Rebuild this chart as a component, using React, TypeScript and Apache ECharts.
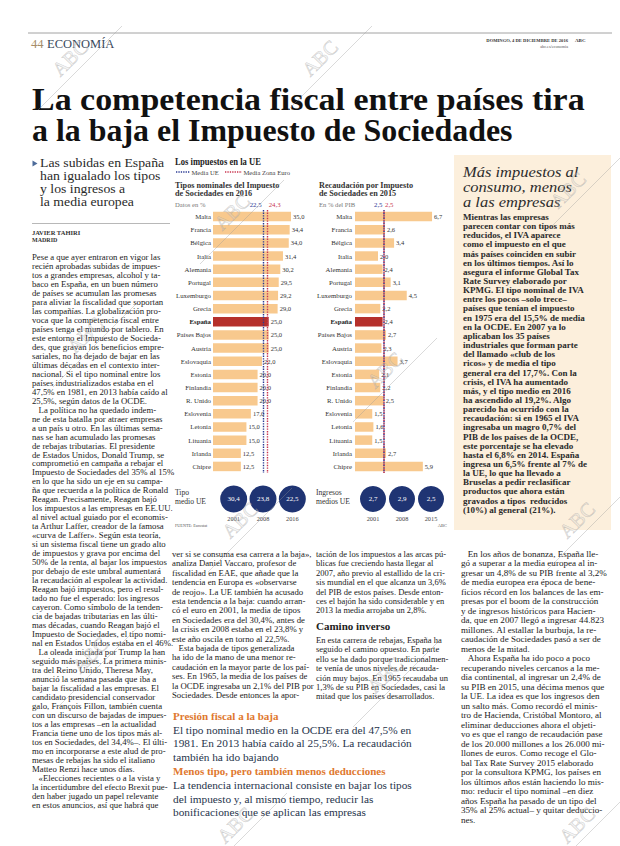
import React, { useEffect, useRef } from 'react';
import * as echarts from 'echarts';

// ---------- DATA ----------
const countries = ['Malta', 'Francia', 'Bélgica', 'Italia', 'Alemania', 'Portugal', 'Luxemburgo', 'Grecia', 'España', 'Países Bajos', 'Austria', 'Eslovaquia', 'Estonia', 'Finlandia', 'R. Unido', 'Eslovenia', 'Letonia', 'Lituania', 'Irlanda', 'Chipre'];
const tiposNominales2016 = [35.0, 34.4, 34.0, 31.4, 30.2, 29.5, 29.2, 29.0, 25.0, 25.0, 25.0, 22.0, 20.0, 20.0, 20.0, 17.0, 15.0, 15.0, 12.5, 12.5];
const recaudacion2015 = [6.7, 2.6, 3.4, 2.0, 2.4, 3.1, 4.5, 2.2, 2.4, 2.7, 2.3, 3.7, 2.1, 2.2, 2.5, 1.5, 1.6, 1.5, 2.7, 5.9];
const mediaUETipos = 22.5;
const mediaZonaEuroTipos = 24.3;
const mediaUERecaudacion = 2.5;
const mediaZonaEuroRecaudacion = 2.5;
const tipoMedioYears = ['2001', '2008', '2016'];
const tipoMedioUE = [30.4, 23.8, 22.5];
const ingresosYears = ['2001', '2008', '2015'];
const ingresosMediosUE = [2.7, 2.9, 2.5];
const highlight = 'España';

// ---------- TEXTS ----------
const NB = '\u00A0\u00A0\u00A0';
const title = ['La competencia fiscal entre países tira', 'a la baja el Impuesto de Sociedades'];
const deck = ['Las subidas en España', 'han igualado los tipos', 'y los ingresos a', 'la media europea'];
const col1 = [
  'Pese a que ayer entraron en vigor las', 'recién aprobadas subidas de impues-', 'tos a grandes empresas, alcohol y ta-', 'baco en España, en un buen número',
  'de países se acumulan las promesas', 'para aliviar la fiscalidad que soportan', 'las compañías. La globalización pro-', 'voca que la competencia fiscal entre',
  'países tenga el mundo por tablero. En', 'este entorno el Impuesto de Socieda-', 'des, que gravan los beneficios empre-', 'sariales, no ha dejado de bajar en las',
  'últimas décadas en el contexto inter-', 'nacional. Si el tipo nominal entre los', 'países industrializados estaba en el', '47,5% en 1981, en 2013 había caído al',
  '25,5%, según datos de la OCDE.', NB + 'La política no ha quedado indem-', 'ne de esta batalla por atraer empresas', 'a un país u otro. En las últimas sema-',
  'nas se han acumulado las promesas', 'de rebajas tributarias. El presidente', 'de Estados Unidos, Donald Trump, se', 'comprometió en campaña a rebajar el',
  'Impuesto de Sociedades del 35% al 15%', 'en lo que ha sido un eje en su campa-', 'ña que recuerda a la política de Ronald', 'Reagan. Precisamente, Reagan bajó',
  'los impuestos a las empresas en EE.UU.', 'al nivel actual guiado por el economis-', 'ta Arthur Laffer, creador de la famosa', '«curva de Laffer». Según esta teoría,',
  'si un sistema fiscal tiene un grado alto', 'de impuestos y grava por encima del', '50% de la renta, al bajar los impuestos', 'por debajo de este umbral aumentará',
  'la recaudación al espolear la actividad.', 'Reagan bajó impuestos, pero el resul-', 'tado no fue el esperado: los ingresos', 'cayeron. Como símbolo de la tenden-',
  'cia de bajadas tributarias en las últi-', 'mas décadas, cuando Reagan bajó el', 'Impuesto de Sociedades, el tipo nomi-', 'nal en Estados Unidos estaba en el 46%.',
  NB + 'La oleada iniciada por Trump la han', 'seguido más países. La primera minis-', 'tra del Reino Unido, Theresa May,', 'anunció la semana pasada que iba a',
  'bajar la fiscalidad a las empresas. El', 'candidato presidencial conservador', 'galo, François Fillon, también cuenta', 'con un discurso de bajadas de impues-',
  'tos a las empresas –en la actualidad', 'Francia tiene uno de los tipos más al-', 'tos en Sociedades, del 34,4%–. El últi-', 'mo en incorporarse a este alud de pro-',
  'mesas de rebajas ha sido el italiano', 'Matteo Renzi hace unos días.', NB + '«Elecciones recientes o a la vista y', 'la incertidumbre del efecto Brexit pue-',
  'den haber jugado un papel relevante', 'en estos anuncios, así que habrá que',
];
const col2 = [
  'ver si se consuma esa carrera a la baja»,', 'analiza Daniel Vaccaro, profesor de', 'fiscalidad en EAE, que añade que la', 'tendencia en Europa es «observarse',
  'de reojo». La UE también ha acusado', 'esta tendencia a la baja: cuando arran-', 'có el euro en 2001, la media de tipos', 'en Sociedades era del 30,4%, antes de',
  'la crisis en 2008 estaba en el 23,8% y', 'este año oscila en torno al 22,5%.', NB + 'Esta bajada de tipos generalizada', 'ha ido de la mano de una menor re-',
  'caudación en la mayor parte de los paí-', 'ses. En 1965, la media de los países de', 'la OCDE ingresaba un 2,1% del PIB por', 'Sociedades. Desde entonces la apor-',
];
const col3a = [
  'tación de los impuestos a las arcas pú-', 'blicas fue creciendo hasta llegar al', '2007, año previo al estallido de la cri-', 'sis mundial en el que alcanza un 3,6%',
  'del PIB de estos países. Desde enton-', 'ces el bajón ha sido considerable y en', '2013 la media arrojaba un 2,8%.',
];
const col3b = [
  'En esta carrera de rebajas, España ha', 'seguido el camino opuesto. En parte', 'ello se ha dado porque tradicionalmen-', 'te venía de unos niveles de recauda-',
  'ción muy bajos. En 1965 recaudaba un', '1,3% de su PIB en Sociedades, casi la', 'mitad que los países desarrollados.',
];
const col4 = [
  NB + 'En los años de bonanza, España lle-', 'gó a superar a la media europea al in-', 'gresar un 4,8% de su PIB frente al 3,2%', 'de media europea era época de bene-',
  'ficios récord en los balances de las em-', 'presas por el boom de la construcción', 'y de ingresos históricos para Hacien-', 'da, que en 2007 llegó a ingresar 44.823',
  'millones. Al estallar la burbuja, la re-', 'caudación de Sociedades pasó a ser de', 'menos de la mitad.', NB + 'Ahora España ha ido poco a poco',
  'recuperando niveles cercanos a la me-', 'dia continental, al ingresar un 2,4% de', 'su PIB en 2015, una décima menos que', 'la UE. La idea es que los ingresos den',
  'un salto más. Como recordó el minis-', 'tro de Hacienda, Cristóbal Montoro, al', 'eliminar deducciones ahora el objeti-', 'vo es que el rango de recaudación pase',
  'de los 20.000 millones a los 26.000 mi-', 'llones de euros. Como recoge el Glo-', 'bal Tax Rate Survey 2015 elaborado', 'por la consultora KPMG, los países en',
  'los últimos años están haciendo lo mis-', 'mo: reducir el tipo nominal –en diez', 'años España ha pasado de un tipo del', '35% al 25% actual– y quitar deduccio-', 'nes.',
];
const sideTitle = ['Más impuestos al', 'consumo, menos', 'a las empresas'];
const sideBody = [
  'Mientras las empresas', 'parecen contar con tipos más', 'reducidos, el IVA aparece', 'como el impuesto en el que', 'más países coinciden en subir',
  'en los últimos tiempos. Así lo', 'asegura el informe Global Tax', 'Rate Survey elaborado por', 'KPMG. El tipo nominal de IVA', 'entre los pocos –solo trece–',
  'países que tenían el impuesto', 'en 1975 era del 15,5% de media', 'en la OCDE. En 2007 ya lo', 'aplicaban los 35 países', 'industriales que forman parte',
  'del llamado «club de los', 'ricos» y de media el tipo', 'general era del 17,7%. Con la', 'crisis, el IVA ha aumentado', 'más, y el tipo medio en 2016',
  'ha ascendido al 19,2%. Algo', 'parecido ha ocurrido con la', 'recaudación: si en 1965 el IVA', 'ingresaba un magro 0,7% del', 'PIB de los países de la OCDE,',
  'este porcentaje se ha elevado', 'hasta el 6,8% en 2014. España', 'ingresa un 6,5% frente al 7% de', 'la UE, lo que ha llevado a', 'Bruselas a pedir reclasificar',
  'productos que ahora están', 'gravados a tipos  reducidos', '(10%) al general (21%).',
];

// ---------- STYLE ----------
const SERIF = '"Liberation Serif", "DejaVu Serif", serif';
const PEACH = '#f8c98e';
const RED_BAR = '#b5302c';
const NAVY = '#1f3473';
const BLUE_LINE = '#2a3a94';
const RED_LINE = '#c9354f';
const ORANGE = '#e0782e';
const INK = '#222';

const fmt = (v: number) => v.toFixed(1).replace('.', ',');

function txt(x: number, yc: number, lines: string[] | string, o: any = {}) {
  const lh = o.lh ?? 9.4;
  const text = Array.isArray(lines) ? lines.join('\n') : lines;
  return {
    type: 'text', x, y: yc - lh / 2, scaleX: o.sx ?? 1, silent: true, z: o.z ?? 10,
    style: {
      text, fill: o.color ?? INK, fontSize: o.size ?? 8.5, fontFamily: o.family ?? SERIF,
      fontWeight: o.weight ?? 'normal', fontStyle: o.fstyle ?? 'normal', lineHeight: lh,
      textAlign: o.align ?? 'left', textVerticalAlign: 'top',
    },
  };
}

function watermark(cx: number, cy: number) {
  return [
    { type: 'line', silent: true, z: 50, shape: { x1: cx - 42, y1: cy + 42, x2: cx + 42, y2: cy - 42 }, style: { stroke: 'rgba(150,150,150,0.45)', lineWidth: 0.8 } },
    { type: 'text', silent: true, z: 50, x: cx - 3, y: cy - 3, rotation: Math.PI / 4, style: { text: 'ABC', fontSize: 20, fontFamily: SERIF, fill: 'rgba(215,215,215,0.25)', stroke: 'rgba(150,150,150,0.45)', lineWidth: 0.6, textAlign: 'center', textVerticalAlign: 'bottom' } },
  ];
}

const wmPositions = [[80, 68], [330, 68], [242, 222], [578, 200], [95, 345], [395, 380], [250, 530], [587, 530], [100, 665], [395, 685], [587, 835], [245, 835]];

function buildOption() {
  const graphic: any[] = [
    // sidebar background
    { type: 'rect', silent: true, z: 0, shape: { x: 454, y: 155, width: 157, height: 375 }, style: { fill: '#fcefdc' } },
    // header
    { type: 'line', silent: true, shape: { x1: 28, y1: 33, x2: 612, y2: 33 }, style: { stroke: '#8a8a8a', lineWidth: 0.8 } },
    txt(31, 44, '44', { size: 12.5, color: '#a58c68', lh: 14 }),
    txt(47, 44, 'ECONOMÍA', { size: 12.5, color: '#394a5c', lh: 14 }),
    txt(568, 40, 'DOMINGO, 4 DE DICIEMBRE DE 2016', { size: 4.6, weight: 'bold', color: '#333', align: 'right', lh: 6 }),
    txt(575, 40, 'ABC', { size: 5, weight: 'bold', color: '#333', lh: 6 }),
    txt(568, 46.5, 'abc.es/economia', { size: 4.2, color: '#555', align: 'right', lh: 5 }),
    // title
    txt(32, 99.5, title[0], { size: 31, weight: 'bold', color: '#111', lh: 31, sx: 1.095 }),
    txt(32, 130.5, title[1], { size: 31, weight: 'bold', color: '#111', lh: 31, sx: 1.03 }),
    // deck
    { type: 'polygon', silent: true, shape: { points: [[32.5, 160.5], [37.5, 163.5], [32.5, 166.5]] }, style: { fill: '#4d6b9a' } },
    txt(40, 163, deck, { size: 13, color: '#2a2a2a', lh: 13, sx: 1.06 }),
    { type: 'line', silent: true, shape: { x1: 32, y1: 223.5, x2: 170, y2: 223.5 }, style: { stroke: '#888', lineWidth: 0.6 } },
    txt(32, 232, 'JAVIER TAHIRI', { size: 6.5, weight: 'bold', color: '#333', lh: 8 }),
    txt(32, 240, 'MADRID', { size: 6, weight: 'bold', color: '#333', lh: 8 }),
    // body columns
    txt(32, 257, col1, { size: 8.5, lh: 8.98, sx: 1.03 }),
    txt(172, 554, col2, { size: 8.5, lh: 9.4, sx: 1.03 }),
    txt(316, 554, col3a, { size: 8.5, lh: 9.4, sx: 1.0 }),
    txt(316, 626, 'Camino inverso', { size: 11, weight: 'bold', color: '#222', lh: 12 }),
    txt(316, 640, col3b, { size: 8.5, lh: 9.4, sx: 1.0 }),
    txt(461, 554, col4, { size: 8.5, lh: 9.5, sx: 1.07 }),
    // highlights
    txt(173, 716, 'Presión fiscal a la baja', { size: 11, weight: 'bold', color: ORANGE, lh: 13 }),
    txt(173, 730, ['El tipo nominal medio en la OCDE era del 47,5% en', '1981. En 2013 había caído al 25,5%. La recaudación', 'también ha ido bajando'], { size: 11.3, color: '#26334b', lh: 13.4 }),
    txt(173, 771, 'Menos tipo, pero también menos deducciones', { size: 11, weight: 'bold', color: ORANGE, lh: 13 }),
    txt(173, 785.5, ['La tendencia internacional consiste en bajar los tipos', 'del impuesto y, al mismo tiempo, reducir las', 'bonificaciones que se aplican las empresas'], { size: 11.3, color: '#26334b', lh: 13.4 }),
    // sidebar
    txt(463, 172, sideTitle, { size: 15, fstyle: 'italic', color: '#2c2c2c', lh: 15, sx: 1.1 }),
    txt(463, 217, sideBody, { size: 9, weight: 'bold', color: '#2a2a2a', lh: 9.15, sx: 1.0 }),
    // chart headings
    txt(175, 162, 'Los impuestos en la UE', { size: 10, weight: 'bold', color: '#222', lh: 11, sx: 0.86 }),
    { type: 'line', silent: true, shape: { x1: 176, y1: 172, x2: 190, y2: 172 }, style: { stroke: BLUE_LINE, lineWidth: 1.3, lineDash: [1.3, 1.1] } },
    txt(191.5, 172, 'Media UE', { size: 6.6, color: '#444', lh: 8 }),
    { type: 'line', silent: true, shape: { x1: 225, y1: 172, x2: 242, y2: 172 }, style: { stroke: RED_LINE, lineWidth: 1.3, lineDash: [1.3, 1.1] } },
    txt(243.5, 172, 'Media Zona Euro', { size: 6.6, color: '#444', lh: 8 }),
    txt(175, 185, ['Tipos nominales del Impuesto', 'de Sociedades en 2016'], { size: 8.2, weight: 'bold', color: '#333', lh: 8.5 }),
    txt(175, 204.5, 'Datos en %', { size: 6.6, color: '#777', lh: 8 }),
    txt(319, 185, ['Recaudación por Impuesto', 'de Sociedades en 2015'], { size: 8.2, weight: 'bold', color: '#333', lh: 8.5 }),
    txt(319, 204.5, 'En % del PIB', { size: 6.6, color: '#777', lh: 8 }),
    txt(175, 492, ['Tipo', 'medio UE'], { size: 7.6, color: '#333', lh: 9.5 }),
    txt(316, 492, ['Ingresos', 'medios UE'], { size: 7.6, color: '#333', lh: 9.5 }),
    txt(175, 525, 'FUENTE: Eurostat', { size: 4.2, color: '#555', lh: 5 }),
    txt(447, 525, 'ABC', { size: 4.5, color: '#555', lh: 5, align: 'right' }),
  ];
  wmPositions.forEach(([x, y]) => graphic.push(...watermark(x, y)));

  const catAxisLabel = {
    fontSize: 6.8, color: '#333', fontFamily: SERIF,
    formatter: (v: string) => (v === highlight ? `{b|${v}}` : v),
    rich: { b: { fontSize: 6.8, fontWeight: 'bold', color: '#222', fontFamily: SERIF } },
  };
  const barLabel = { show: true, position: 'right', distance: 2, fontSize: 6.5, color: '#333', fontFamily: SERIF, formatter: (p: any) => fmt(p.value) };
  const mlLabel = (v: number, color: string, side: 'l' | 'r', pad: number) => ({
    show: true, position: 'start', distance: 2, formatter: fmt(v), color, fontSize: 6.8, fontFamily: SERIF,
    padding: side === 'l' ? [0, pad, 0, 0] : [0, 0, 0, pad],
  });
  const circleLabel = { show: true, position: 'inside', color: '#fff', fontSize: 7, fontFamily: SERIF, formatter: (p: any) => fmt(p.value[2]) };
  const yearAxis = (gi: number, data: string[]) => ({
    gridIndex: gi, type: 'category', data, axisLine: { show: false }, axisTick: { show: false },
    axisLabel: { fontSize: 6.3, color: '#444', fontFamily: SERIF, margin: 2 },
  });

  return {
    animation: false,
    backgroundColor: '#fff',
    textStyle: { fontFamily: SERIF },
    grid: [
      { left: 213, top: 210, width: 78, height: 263 },
      { left: 355, top: 210, width: 80.5, height: 263 },
      { left: 219, top: 485, width: 88, height: 28 },
      { left: 358.5, top: 485, width: 87, height: 28 },
    ],
    xAxis: [
      { gridIndex: 0, type: 'value', min: 0, max: 35, show: false },
      { gridIndex: 1, type: 'value', min: 0, max: 7, show: false },
      yearAxis(2, tipoMedioYears),
      yearAxis(3, ingresosYears),
    ],
    yAxis: [
      { gridIndex: 0, type: 'category', data: countries, inverse: true, axisLine: { show: false }, axisTick: { show: false }, axisLabel: { ...catAxisLabel, margin: 2 } },
      { gridIndex: 1, type: 'category', data: countries, inverse: true, axisLine: { show: false }, axisTick: { show: false }, axisLabel: { ...catAxisLabel, margin: 3 } },
      { gridIndex: 2, type: 'value', min: 0, max: 1, show: false },
      { gridIndex: 3, type: 'value', min: 0, max: 1, show: false },
    ],
    series: [
      {
        type: 'bar', name: 'Tipos nominales 2016', xAxisIndex: 0, yAxisIndex: 0, barWidth: 9.5,
        data: tiposNominales2016.map((v, i) => ({ value: v, itemStyle: { color: countries[i] === highlight ? RED_BAR : PEACH } })),
        label: barLabel,
        markLine: {
          silent: true, symbol: ['none', 'none'], animation: false,
          data: [
            { xAxis: mediaUETipos, lineStyle: { color: BLUE_LINE, type: [1.4, 1.2], width: 1.4 }, label: mlLabel(mediaUETipos, BLUE_LINE, 'l', 15) },
            { xAxis: mediaZonaEuroTipos, lineStyle: { color: RED_LINE, type: [1.4, 1.2], width: 1.4 }, label: mlLabel(mediaZonaEuroTipos, RED_LINE, 'r', 15) },
          ],
        },
      },
      {
        type: 'bar', name: 'Recaudación 2015', xAxisIndex: 1, yAxisIndex: 1, barWidth: 9.5,
        data: recaudacion2015.map((v, i) => ({ value: v, itemStyle: { color: countries[i] === highlight ? RED_BAR : PEACH } })),
        label: barLabel,
        markLine: {
          silent: true, symbol: ['none', 'none'], animation: false,
          data: [
            { xAxis: mediaUERecaudacion, lineStyle: { color: BLUE_LINE, type: [1.3, 1.3], width: 1.5 }, label: mlLabel(mediaUERecaudacion, BLUE_LINE, 'l', 11) },
            { xAxis: mediaZonaEuroRecaudacion, lineStyle: { color: RED_LINE, type: [1.3, 1.3], dashOffset: 1.3, width: 1.5 }, label: mlLabel(mediaZonaEuroRecaudacion, RED_LINE, 'r', 11) },
          ],
        },
      },
      {
        type: 'scatter', name: 'Tipo medio UE', xAxisIndex: 2, yAxisIndex: 2, symbolSize: 27,
        itemStyle: { color: NAVY, opacity: 1 },
        data: tipoMedioUE.map((v, i) => [i, 0.5, v]), label: circleLabel,
      },
      {
        type: 'scatter', name: 'Ingresos medios UE', xAxisIndex: 3, yAxisIndex: 3, symbolSize: 26,
        itemStyle: { color: NAVY, opacity: 1 },
        data: ingresosMediosUE.map((v, i) => [i, 0.5, v]), label: circleLabel,
      },
    ],
    graphic,
  };
}

export default function App() {
  const ref = useRef<HTMLDivElement>(null);
  useEffect(() => {
    if (!ref.current) return;
    const chart = echarts.init(ref.current, undefined, { renderer: 'svg' });
    chart.setOption(buildOption() as any);
    return () => chart.dispose();
  }, []);
  return <div ref={ref} style={{ position: 'absolute', left: 0, top: 0, width: 620, height: 846, background: '#fff' }} />;
}
